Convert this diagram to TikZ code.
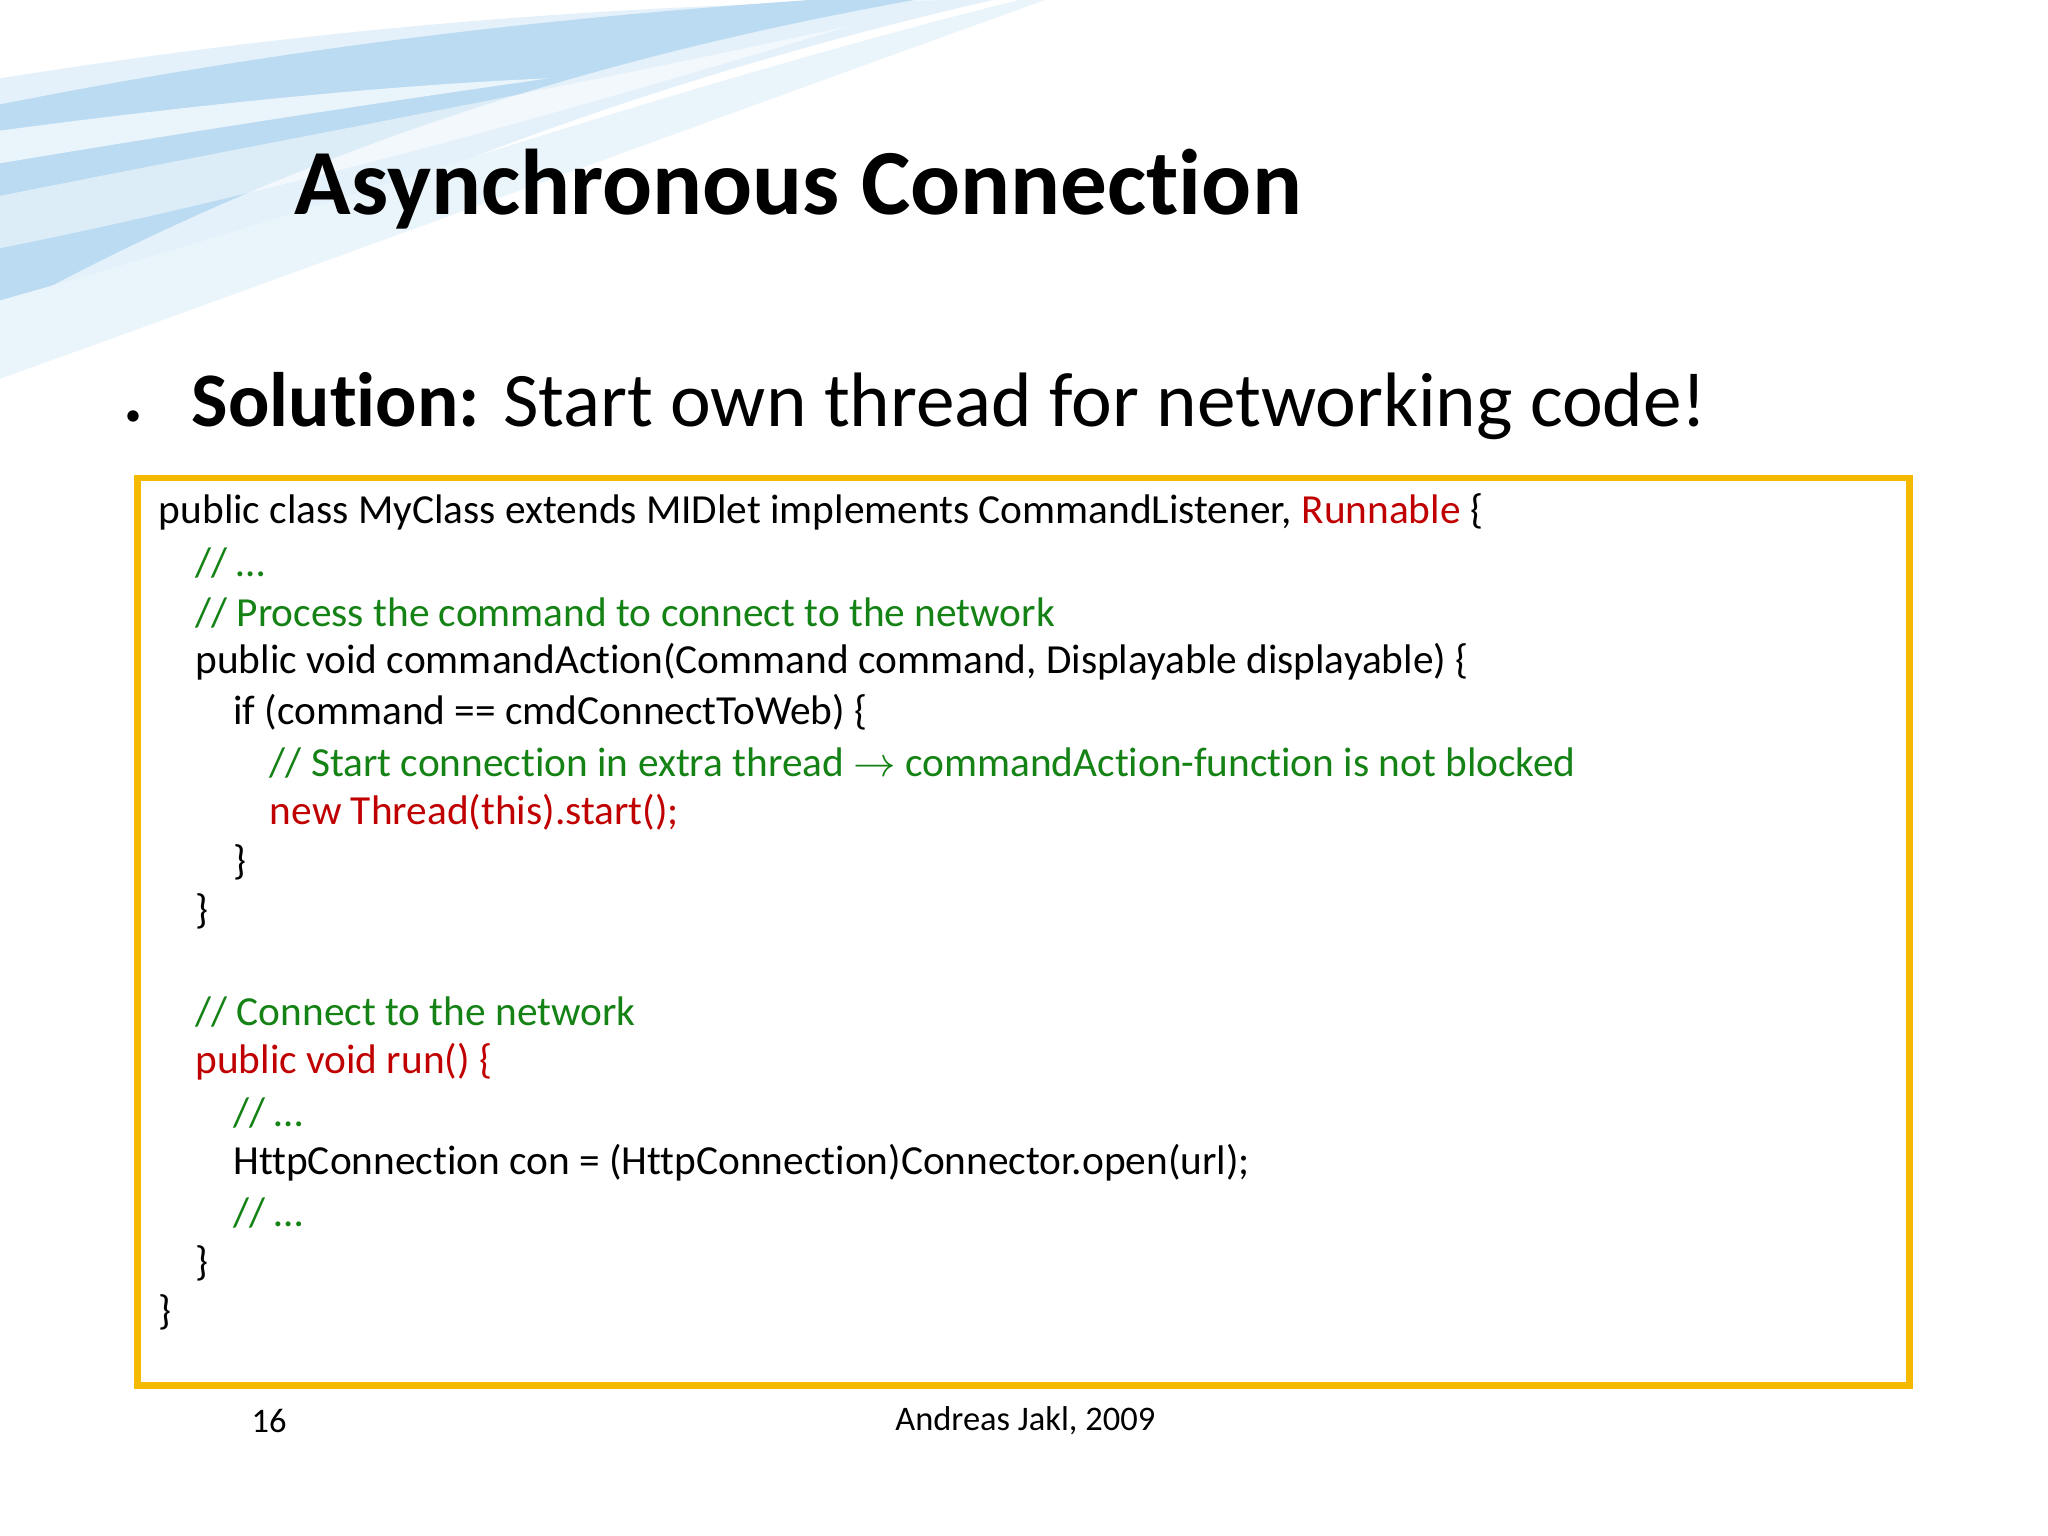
\documentclass[tikz,border=0pt]{standalone}
\usepackage{fontspec}
\setmainfont{Carlito}[Ligatures={NoCommon}]
\definecolor{cgreen}{RGB}{20,130,20}
\definecolor{cred}{RGB}{192,0,0}
\definecolor{frame}{RGB}{245,185,0}
\definecolor{swoosh}{RGB}{150,200,235}
\begin{document}
\begin{tikzpicture}[x=0.01cm,y=-0.01cm,
  code/.style={anchor=west,inner sep=0,font=\fontsize{9}{11}\selectfont},
  cg/.style={code,text=cgreen}, cr/.style={code,text=cred}]
\useasboundingbox (0,0) rectangle (1568,1176);
\fill[white] (0,0) rectangle (1568,1176);
% background swoosh
\fill[swoosh!25] (0,60) .. controls (250,20) and (500,0) .. (760,0) .. controls (500,60) and (250,150) .. (0,290) -- cycle;
\fill[swoosh!65] (0,80) .. controls (200,40) and (400,15) .. (620,0) -- (700,0) .. controls (420,50) and (200,130) .. (0,240) -- cycle;
\fill[white,opacity=0.7] (0,100) .. controls (150,80) and (300,65) .. (420,60) .. controls (280,80) and (150,100) .. (0,125) -- cycle;
\fill[white,opacity=0.5] (0,150) .. controls (200,110) and (420,70) .. (650,20) .. controls (420,90) and (200,150) .. (0,190) -- cycle;
\fill[swoosh!20] (0,230) .. controls (250,160) and (500,70) .. (780,0) -- (800,0) .. controls (550,90) and (250,200) .. (0,290) -- cycle;
% title
\node[anchor=west,inner sep=0,font=\fontsize{20.3}{24}\selectfont\bfseries] (title) at (225,145) {Asynchronous Connection};
\node[inner sep=0,font=\fontsize{7}{8}\selectfont] (bul) at (102,320) {•};
\node[anchor=west,inner sep=0,font=\fontsize{16.8}{19}\selectfont] (sol) at (146,311) {\textbf{Solution:} Start own thread for networking code!};
% frame
\draw[frame,line width=1.5pt] (105,366) rectangle (1462,1061);
% code
\node[code] (l1) at (121,392) {public class MyClass extends MIDlet implements CommandListener, \textcolor{cred}{Runnable} \{};
\node[cg] (l2) at (149,431) {// …};
\node[cg] (l3) at (149,469) {// Process the command to connect to the network};
\node[code] (l4) at (149,507) {public void commandAction(Command command, Displayable displayable) \{};
\node[code] (l5) at (178,545) {if (command == cmdConnectToWeb) \{};
\node[cg] (l6) at (206,584) {// Start connection in extra thread $\rightarrow$ commandAction-function is not blocked};
\node[cr] (l7) at (206,622) {new Thread(this).start();};
\node[code] (l8) at (178,660) {\}};
\node[code] (l9) at (149,698) {\}};
\node[cg] (l10) at (149,775) {// Connect to the network};
\node[cr] (l11) at (149,813) {public void run() \{};
\node[cg] (l12) at (178,852) {// …};
\node[code] (l13) at (178,890) {HttpConnection con = (HttpConnection)Connector.open(url);};
\node[cg] (l14) at (178,929) {// …};
\node[code] (l15) at (149,967) {\}};
\node[code] (l16) at (121,1005) {\}};
% footer
\node[font=\fontsize{7.5}{9}\selectfont,inner sep=0] (pg) at (206,1088) {16};
\node[font=\fontsize{7.5}{9}\selectfont,inner sep=0] (auth) at (785,1088) {Andreas Jakl, 2009};
\end{tikzpicture}
\end{document}
